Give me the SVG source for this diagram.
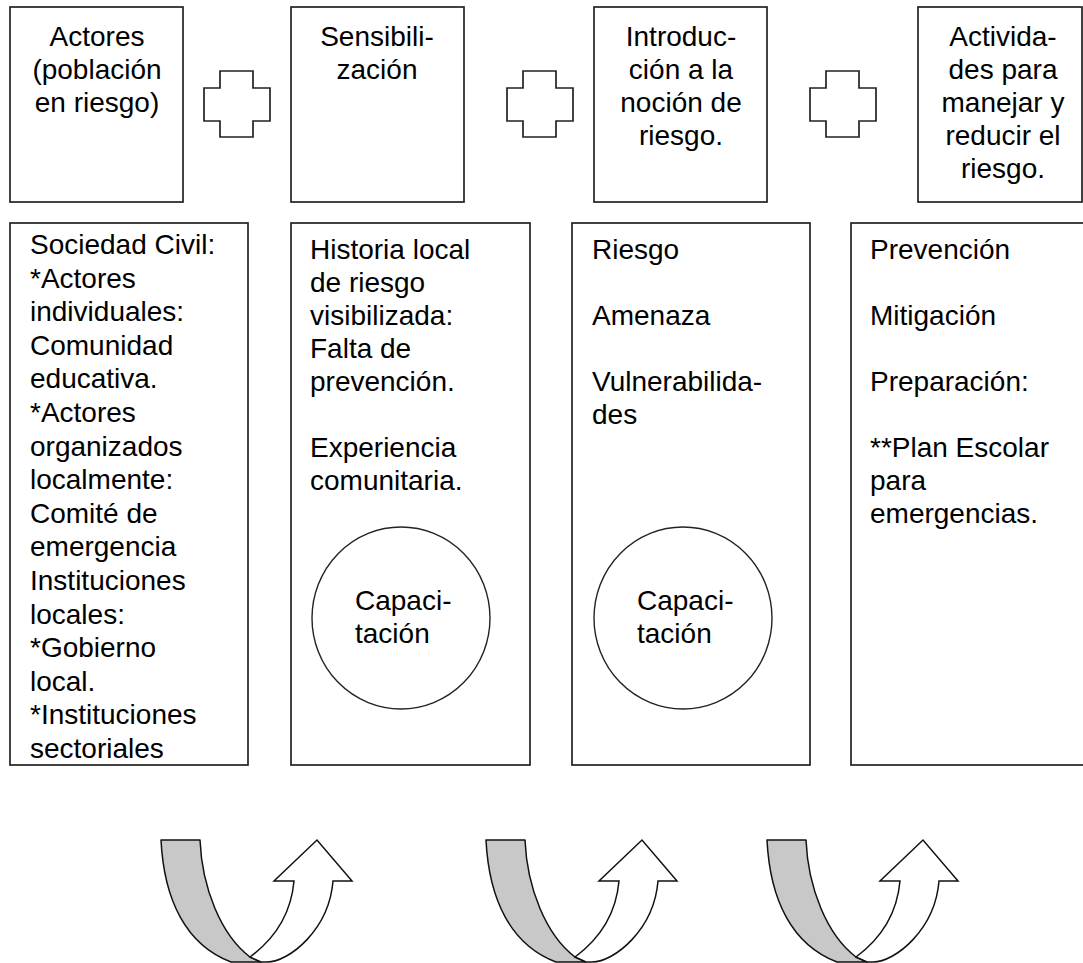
<svg xmlns="http://www.w3.org/2000/svg" width="1083" height="963" viewBox="0 0 1083 963">
<defs>
<style>
.box{fill:#fff;stroke:#222;stroke-width:1.7}
.cross{fill:#fff;stroke:#222;stroke-width:1.7}
.circ{fill:#fff;stroke:#222;stroke-width:1.4}
text{font-family:"Liberation Sans",Arial,sans-serif;font-size:28px;fill:#000}
.c{text-anchor:middle}
.back{fill:#c8c8c8;stroke:#111;stroke-width:1.5;stroke-linejoin:round}
.front{fill:#fff;stroke:#111;stroke-width:1.5;stroke-linejoin:miter}
</style>
<g id="uarrow">
<path class="back" d="M0,0 L39,0 C41,48 60,95 89,117 L100,122 L70,122 C25,105 3,60 0,0 Z"/>
<path class="front" d="M89,117 C112,100 130,75 133,41 L113,41 L156,0 L191,41 L172,41 C168,90 128,122 106,122 L100,122 Z"/>
</g>
</defs>
<rect width="1083" height="963" fill="#fff"/>

<g id="top1">
<rect class="box" x="10" y="7" width="173" height="195"/>
<text class="c" x="97" y="46">Actores</text>
<text class="c" x="97" y="79">(población</text>
<text class="c" x="97" y="112">en riesgo)</text>
</g>
<g id="top2">
<rect class="box" x="291" y="7" width="173" height="195"/>
<text class="c" x="377" y="46">Sensibili-</text>
<text class="c" x="377" y="79">zación</text>
</g>
<g id="top3">
<rect class="box" x="594" y="7" width="173" height="195"/>
<text class="c" x="681" y="46">Introduc-</text>
<text class="c" x="681" y="79">ción a la</text>
<text class="c" x="681" y="112">noción de</text>
<text class="c" x="681" y="145">riesgo.</text>
</g>
<g id="top4">
<rect class="box" x="918" y="7" width="164" height="195"/>
<text class="c" x="1003" y="46">Activida-</text>
<text class="c" x="1003" y="79">des para</text>
<text class="c" x="1003" y="112">manejar y</text>
<text class="c" x="1003" y="145">reducir el</text>
<text class="c" x="1003" y="178">riesgo.</text>
</g>

<g id="plus1"><path class="cross" d="M220,71 H253 V88 H270 V121 H253 V137 H220 V121 H204 V88 H220 Z"/></g>
<g id="plus2"><path class="cross" d="M523,71 H556 V88 H573 V121 H556 V137 H523 V121 H507 V88 H523 Z"/></g>
<g id="plus3"><path class="cross" d="M826,71 H859 V88 H876 V121 H859 V137 H826 V121 H810 V88 H826 Z"/></g>

<g id="low1">
<rect class="box" x="10" y="223" width="238" height="542"/>
<text x="30" y="254">Sociedad Civil:</text>
<text x="30" y="287.6">*Actores</text>
<text x="30" y="321.2">individuales:</text>
<text x="30" y="354.8">Comunidad</text>
<text x="30" y="388.4">educativa.</text>
<text x="30" y="422">*Actores</text>
<text x="30" y="455.6">organizados</text>
<text x="30" y="489.2">localmente:</text>
<text x="30" y="522.8">Comité de</text>
<text x="30" y="556.4">emergencia</text>
<text x="30" y="590">Instituciones</text>
<text x="30" y="623.6">locales:</text>
<text x="30" y="657.2">*Gobierno</text>
<text x="30" y="690.8">local.</text>
<text x="30" y="724.4">*Instituciones</text>
<text x="30" y="758">sectoriales</text>
</g>
<g id="low2">
<rect class="box" x="291" y="223" width="239" height="542"/>
<text x="310" y="259">Historia local</text>
<text x="310" y="292">de riesgo</text>
<text x="310" y="325">visibilizada:</text>
<text x="310" y="358">Falta de</text>
<text x="310" y="391">prevención.</text>
<text x="310" y="457">Experiencia</text>
<text x="310" y="490">comunitaria.</text>
<ellipse class="circ" cx="401" cy="618" rx="89" ry="91"/>
<text x="355" y="610">Capaci-</text>
<text x="355" y="643">tación</text>
</g>
<g id="low3">
<rect class="box" x="572" y="223" width="238" height="542"/>
<text x="592" y="259">Riesgo</text>
<text x="592" y="325">Amenaza</text>
<text x="592" y="391">Vulnerabilida-</text>
<text x="592" y="424">des</text>
<ellipse class="circ" cx="683" cy="618" rx="89" ry="91"/>
<text x="637" y="610">Capaci-</text>
<text x="637" y="643">tación</text>
</g>
<g id="low4">
<rect class="box" x="851" y="223" width="240" height="542"/>
<text x="870" y="259">Prevención</text>
<text x="870" y="325">Mitigación</text>
<text x="870" y="391">Preparación:</text>
<text x="870" y="457">**Plan Escolar</text>
<text x="870" y="490">para</text>
<text x="870" y="523">emergencias.</text>
</g>

<g id="connectors">
<use href="#uarrow" transform="translate(161,840)"/>
<use href="#uarrow" transform="translate(486,840)"/>
<use href="#uarrow" transform="translate(767,840)"/>
</g>
</svg>
